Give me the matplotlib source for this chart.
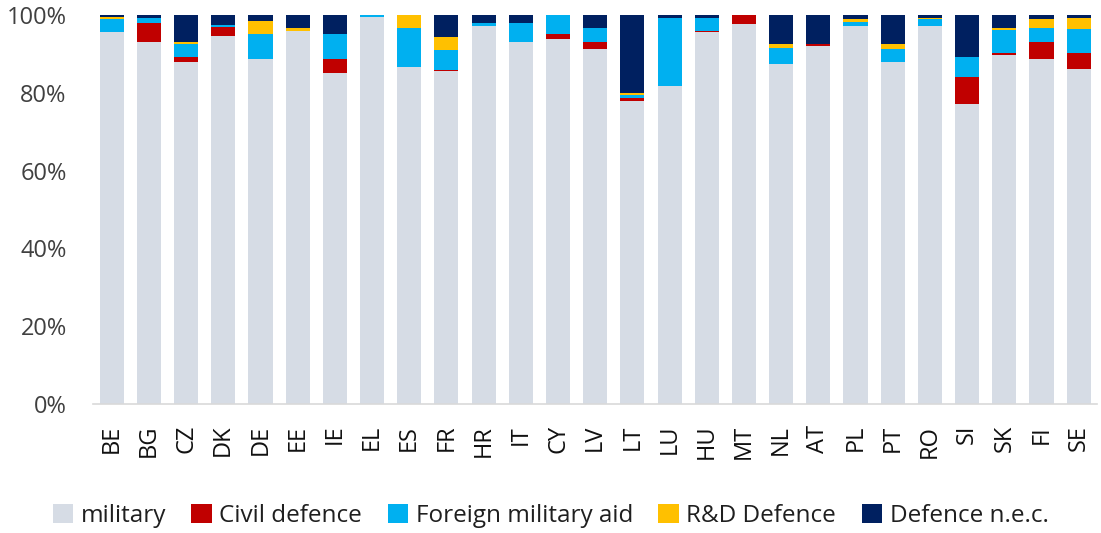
import matplotlib
matplotlib.use("Agg")
import matplotlib.pyplot as plt
import numpy as np

countries = ["BE", "BG", "CZ", "DK", "DE", "EE", "IE", "EL", "ES", "FR", "HR", "IT", "CY", "LV",
             "LT", "LU", "HU", "MT", "NL", "AT", "PL", "PT", "RO", "SI", "SK", "FI", "SE"]
military = [95.6, 93.0, 87.8, 94.6, 88.8, 95.9, 85.1, 99.6, 86.6, 85.5, 97.1, 93.0, 93.8, 91.3,
            77.9, 81.7, 95.5, 97.6, 87.5, 92.1, 97.1, 87.9, 97.1, 77.0, 89.6, 88.8, 86.2]
civil_defence = [0.1, 5.0, 1.3, 2.4, 0.0, 0.0, 3.7, 0.0, 0.0, 0.4, 0.0, 0.0, 1.3, 1.7,
                 0.8, 0.0, 0.4, 2.4, 0.0, 0.4, 0.0, 0.0, 0.0, 7.1, 0.5, 4.2, 3.9]
foreign_aid = [3.3, 1.1, 3.5, 0.5, 6.2, 0.0, 6.2, 0.4, 10.1, 5.0, 0.9, 5.0, 4.9, 3.7,
               0.8, 17.5, 3.3, 0.0, 4.1, 0.0, 1.0, 3.4, 1.8, 5.0, 6.1, 3.7, 6.2]
rd_defence = [0.6, 0.0, 0.4, 0.0, 3.4, 0.8, 0.0, 0.0, 3.3, 3.4, 0.0, 0.0, 0.0, 0.0,
              0.4, 0.0, 0.0, 0.0, 0.9, 0.0, 0.8, 1.2, 0.3, 0.0, 0.5, 2.2, 2.9]
defence_nec = [0.4, 0.9, 7.0, 2.5, 1.6, 3.3, 5.0, 0.0, 0.0, 5.7, 2.0, 2.0, 0.0, 3.3,
               20.1, 0.8, 0.8, 0.0, 7.5, 7.5, 1.1, 7.5, 0.8, 10.9, 3.3, 1.1, 0.8]

series = [
    ("military", military, "#D6DCE5"),
    ("Civil defence", civil_defence, "#C00000"),
    ("Foreign military aid", foreign_aid, "#00B0F0"),
    ("R&D Defence", rd_defence, "#FFC000"),
    ("Defence n.e.c.", defence_nec, "#002060"),
]

plt.rcParams['font.family'] = ['Open Sans', 'DejaVu Sans']

fig = plt.figure(figsize=(11.01, 5.33), dpi=100)
ax = fig.add_axes([0.0845, 0.242, 0.9122, 0.7299])

x = np.arange(len(countries))
bottom = np.zeros(len(countries))
for name, vals, col in series:
    v = np.array(vals)
    ax.bar(x, v, bottom=bottom, width=0.65, color=col, label=name, linewidth=0)
    bottom += v

ax.set_xlim(-0.5, len(countries) - 0.5)
ax.set_ylim(0, 100)
ax.set_yticks([0, 20, 40, 60, 80, 100])
ax.set_yticklabels([f"{t}%" for t in [0, 20, 40, 60, 80, 100]])
ax.set_xticks(x)
ax.set_xticklabels(countries, rotation=90)

for s in ["top", "right", "left"]:
    ax.spines[s].set_visible(False)
ax.spines["bottom"].set_color("#D9D9D9")
ax.spines["bottom"].set_linewidth(1.2)

ax.tick_params(axis="y", length=0, pad=19, labelsize=17, labelcolor="#404040")
ax.tick_params(axis="x", length=0, pad=15, labelsize=17, labelcolor="#111111")

leg = fig.legend(loc="center", bbox_to_anchor=(0.5, 0.032), ncol=5, frameon=False,
                 fontsize=17.5, handlelength=0.85, handleheight=0.85, handletextpad=0.3,
                 columnspacing=1.05, labelcolor="#1f1f1f")

fig.savefig("out.png", dpi=100)
